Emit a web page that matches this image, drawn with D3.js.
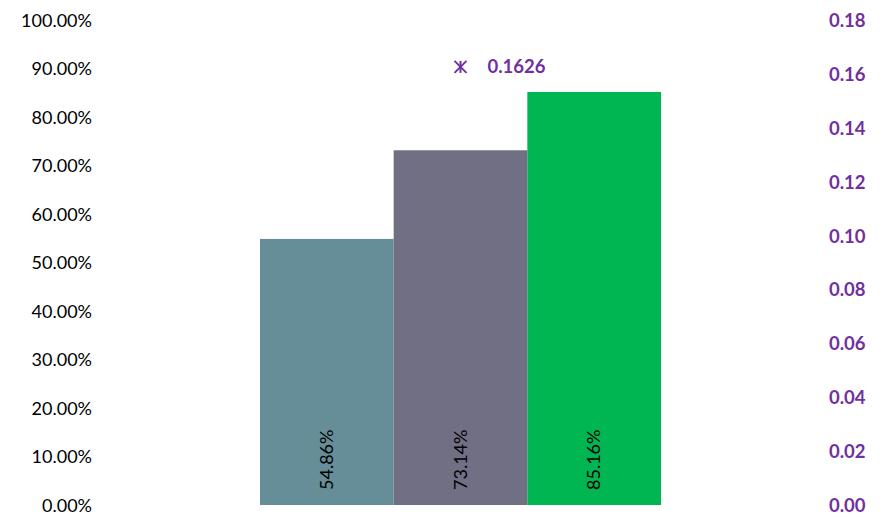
<!DOCTYPE html>
<html>
<head>
<meta charset="utf-8">
<script src="https://cdn.jsdelivr.net/npm/d3@7"></script>
<style>
  html, body { margin: 0; padding: 0; background: #fff; }
  svg text { font-family: Lato, "Open Sans", "Liberation Sans", sans-serif; }
</style>
</head>
<body>
<svg id="chart" width="885" height="517"></svg>
<script>
// Series shares (left axis) and the single ratio point (right axis)
const seriesNames = ["A", "B", "C"];
const seriesValues = [0.5486, 0.7314, 0.8516];
const seriesColors = ["#668E99", "#716F84", "#00B652"];
const pointValue = [0.1626];
const leftTicks = [0, 0.1, 0.2, 0.3, 0.4, 0.5, 0.6, 0.7, 0.8, 0.9, 1.0];
const rightTicks = [0, 0.02, 0.04, 0.06, 0.08, 0.10, 0.12, 0.14, 0.16, 0.18];

const svg = d3.select("#chart");
const plotTop = 20, plotBottom = 505;
const plotLeft = 260, plotRight = 661;

const yLeft = d3.scaleLinear().domain([0, 1]).range([plotBottom, plotTop]);
const yRight = d3.scaleLinear().domain([0, 0.18]).range([plotBottom, plotTop]);
const x = d3.scaleBand().domain(seriesNames).range([plotLeft, plotRight]).padding(0);

// Left percentage axis
const leftAxis = d3.axisLeft(yLeft).tickValues(leftTicks)
  .tickFormat(d => (d * 100).toFixed(2) + "%").tickSize(0).tickPadding(0);
const gl = svg.append("g").attr("transform", "translate(92,0)").call(leftAxis);
gl.select(".domain").remove();
gl.selectAll("text").attr("font-size", 18).attr("fill", "#000").attr("dy", "0.35em");

// Right ratio axis
const rightAxis = d3.axisRight(yRight).tickValues(rightTicks)
  .tickFormat(d3.format(".2f")).tickSize(0).tickPadding(0);
const gr = svg.append("g").attr("transform", "translate(829,0)").call(rightAxis);
gr.select(".domain").remove();
gr.selectAll("text").attr("font-size", 18.5).attr("font-weight", "bold")
  .attr("fill", "#7030A0").attr("dy", "0.35em");

// Bars
svg.append("g").selectAll("rect").data(seriesValues).join("rect")
  .attr("x", (d, i) => x(seriesNames[i]))
  .attr("width", x.bandwidth())
  .attr("y", d => yLeft(d))
  .attr("height", d => plotBottom - yLeft(d))
  .attr("fill", (d, i) => seriesColors[i]);

// Rotated value labels inside bar bases
svg.append("g").selectAll("text").data(seriesValues).join("text")
  .attr("transform", (d, i) => `translate(${x(seriesNames[i]) + x.bandwidth() / 2},490) rotate(-90)`)
  .attr("text-anchor", "start")
  .attr("dy", "0.35em")
  .attr("font-size", 18)
  .attr("fill", "#000")
  .text(d => (d * 100).toFixed(2) + "%");

// Ratio point: star marker with its value
const cx = (plotLeft + plotRight) / 2;
const pt = svg.append("g");
pointValue.forEach(v => {
  const cy = yRight(v);
  const r = 6;
  const g = pt.append("g").attr("transform", `translate(${cx},${cy})`)
    .attr("stroke", "#7030A0").attr("stroke-width", 2);
  g.append("line").attr("x1", 0).attr("y1", -r).attr("x2", 0).attr("y2", r);
  g.append("line").attr("x1", -r).attr("y1", -r).attr("x2", r).attr("y2", r);
  g.append("line").attr("x1", -r).attr("y1", r).attr("x2", r).attr("y2", -r);
  pt.append("text").attr("x", cx + 27).attr("y", cy).attr("dy", "0.35em")
    .attr("font-size", 18.5).attr("font-weight", "bold").attr("fill", "#7030A0")
    .text(v.toFixed(4));
});
</script>
</body>
</html>
